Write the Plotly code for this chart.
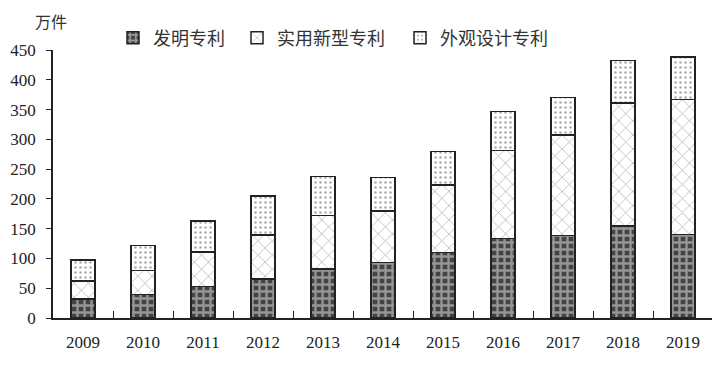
import plotly.graph_objects as go

years = ["2009", "2010", "2011", "2012", "2013", "2014", "2015", "2016", "2017", "2018", "2019"]
invention = [31.5, 39.1, 52.6, 65.3, 82.5, 92.8, 110.2, 133.9, 138.2, 154.2, 140.1]
utility = [31.0, 40.9, 58.5, 74.0, 89.2, 86.8, 112.8, 147.6, 168.8, 207.2, 226.8]
design = [35.2, 42.1, 52.1, 65.8, 65.9, 56.5, 56.9, 65.0, 62.9, 70.9, 71.2]
y_ticks = [0, 50, 100, 150, 200, 250, 300, 350, 400, 450]
series_names = ["发明专利", "实用新型专利", "外观设计专利"]

serif = "Liberation Serif, Times New Roman, serif"
cjk = "Noto Sans CJK SC"

fig = go.Figure()
fig.add_trace(go.Bar(
    x=years, y=invention, name=series_names[0], width=0.4, legend="legend",
    marker=dict(color="#444444", line=dict(color="#222", width=1.5),
                pattern=dict(shape="+", fgcolor="#e8e8e8", bgcolor="#444444", size=7, solidity=0.55)),
))
fig.add_trace(go.Bar(
    x=years, y=utility, name=series_names[1], width=0.4, legend="legend2",
    marker=dict(color="white", line=dict(color="#222", width=1.5),
                pattern=dict(shape="x", fgcolor="#444", bgcolor="white", size=10, solidity=0.12)),
))
fig.add_trace(go.Bar(
    x=years, y=design, name=series_names[2], width=0.4, legend="legend3",
    marker=dict(color="white", line=dict(color="#222", width=1.5),
                pattern=dict(shape=".", fgcolor="#555", bgcolor="white", size=5, solidity=0.2)),
))

leg_common = dict(orientation="h", y=1.045, xanchor="left", yanchor="middle",
                  font=dict(family=cjk, size=18, color="#333"),
                  itemwidth=30, bgcolor="rgba(0,0,0,0)")

fig.update_layout(
    barmode="stack",
    width=712, height=362,
    margin=dict(l=45, r=7, t=42, b=52, autoexpand=False),
    paper_bgcolor="white", plot_bgcolor="white",
    font=dict(family=serif, size=16, color="#222"),
    showlegend=True,
    legend=dict(x=0.0909, **leg_common),
    legend2=dict(x=0.2788, **leg_common),
    legend3=dict(x=0.5258, **leg_common),
    annotations=[dict(text="万件", x=-0.003, y=1.108, xref="paper", yref="paper",
                      xanchor="center", yanchor="middle",
                      showarrow=False, font=dict(family=cjk, size=16, color="#333"))],
)

fig.update_xaxes(
    type="category", showline=True, linecolor="#222", linewidth=1.5,
    ticks="inside", tickson="boundaries", ticklen=7, tickcolor="#222", tickwidth=1.2,
    showgrid=False, zeroline=False,
    tickfont=dict(family=serif, size=17, color="#222"),
    ticklabelstandoff=8,
)
fig.update_yaxes(
    range=[0, 450], tickvals=y_ticks, showline=True, linecolor="#222", linewidth=1.5,
    ticks="outside", ticklen=5, tickcolor="#222", tickwidth=1.2,
    showgrid=False, zeroline=False,
    tickfont=dict(family=serif, size=17, color="#222"),
    ticklabelstandoff=7,
)

fig.write_html("out.html")
